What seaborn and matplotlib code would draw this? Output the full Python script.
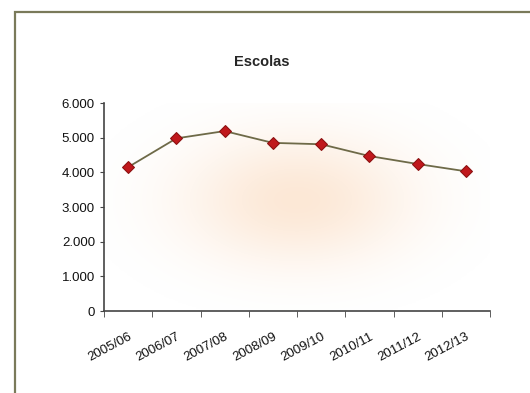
import numpy as np
import pandas as pd
import matplotlib
matplotlib.use("Agg")
import matplotlib.pyplot as plt
import seaborn as sns
from matplotlib.patches import Rectangle
from matplotlib.ticker import FuncFormatter

years = ["2005/06", "2006/07", "2007/08", "2008/09", "2009/10", "2010/11", "2011/12", "2012/13"]
escolas = [4150, 4980, 5190, 4850, 4810, 4470, 4240, 4030]
title = "Escolas"

sns.set_style("white")
plt.rcParams['font.family'] = ['Liberation Sans', 'DejaVu Sans']

fig = plt.figure(figsize=(5.3, 3.93), dpi=100)
ax = fig.add_axes([104/530, 1-311/393, (490-104)/530, (311-103)/393])

# frame around the chart area
fig.patches.append(Rectangle((15/530, -0.05), 1.0, 1-12/393+0.05, transform=fig.transFigure,
                             fill=False, edgecolor="#7a7a5a", linewidth=1.6))

# soft radial gradient background in plot area
gx, gy = np.meshgrid(np.linspace(-1, 1, 300), np.linspace(-1, 1, 200))
r2 = gx**2 + (gy*1.1)**2
w = np.exp(-r2 / 0.35)
w = np.clip((w - 0.03) / 0.97, 0, 1)
base = np.array([1.0, 1.0, 1.0])
peach = np.array([0.99, 0.91, 0.84])
img = base[None, None, :] * (1 - w[..., None]) + peach[None, None, :] * w[..., None]
df = pd.DataFrame({"year": np.arange(len(years)), "value": escolas})
ax.imshow(img, extent=[-0.5, 7.5, -300, 6700], aspect="auto", zorder=0, interpolation="bilinear")

sns.lineplot(data=df, x="year", y="value", ax=ax, color="#6e6a48", linewidth=1.3,
             marker="D", markersize=6, markerfacecolor="#c0181c", markeredgecolor="#8a1010",
             zorder=3)

ax.set_xlim(-0.5, 7.5)
ax.set_ylim(0, 6000)
ax.set_yticks([0, 1000, 2000, 3000, 4000, 5000, 6000])
ax.yaxis.set_major_formatter(FuncFormatter(lambda v, p: f"{int(v):,}".replace(",", ".")))
ax.set_xticks(np.arange(len(years)))
ax.set_xticklabels(years, rotation=28, ha="right", rotation_mode="anchor")
ax.set_xticks(np.arange(-0.5, len(years), 1.0), minor=True)
ax.tick_params(axis="x", which="major", length=0, pad=14, labelsize=9.5, labelcolor="#111111")
ax.tick_params(axis="x", which="minor", length=4, direction="out", color="#444444", bottom=True)
ax.tick_params(axis="y", length=3, direction="out", color="#444444", labelsize=9.5, left=True,
               labelcolor="#111111")
ax.set_xlabel("")
ax.set_ylabel("")
for s in ["top", "right"]:
    ax.spines[s].set_visible(False)
for s in ["left", "bottom"]:
    ax.spines[s].set_color("#444444")
    ax.spines[s].set_linewidth(1.2)
ax.set_facecolor("none")

fig.text(262/530, 1-62/393, title, ha="center", va="center", fontsize=10.5, fontweight="bold")

fig.savefig("out.png", dpi=100)
